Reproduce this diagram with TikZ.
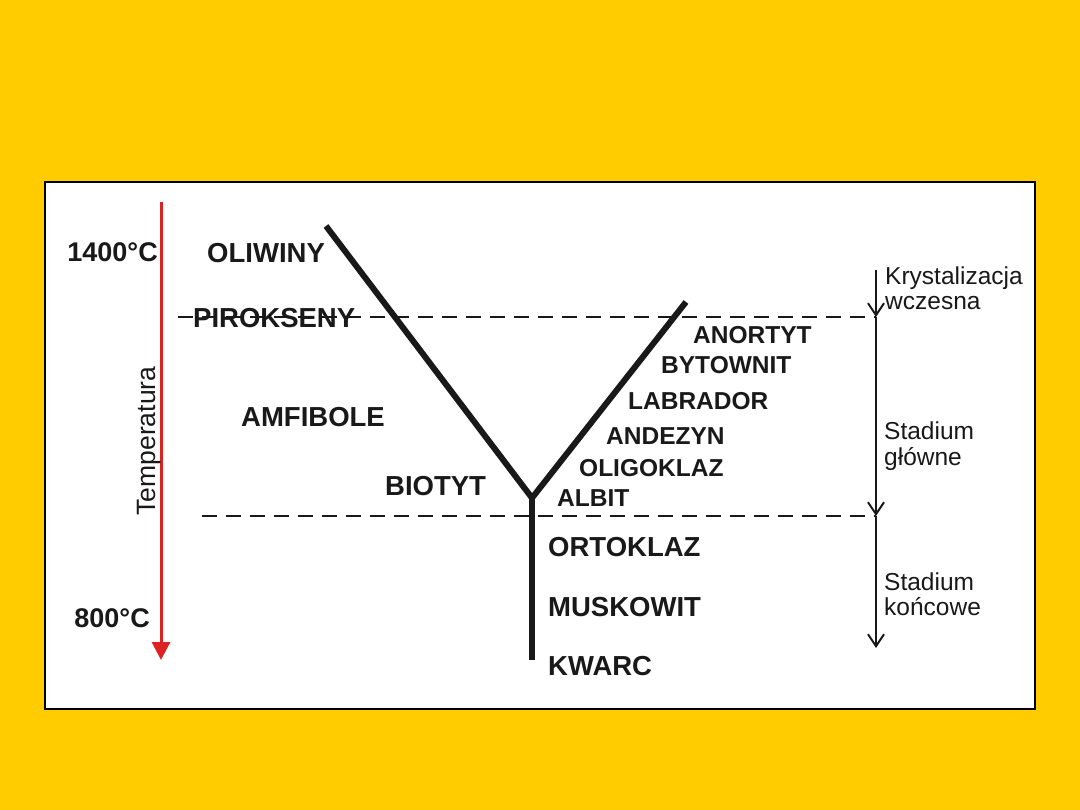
\documentclass[tikz,border=0pt]{standalone}
\usepackage{fontspec}
\setmainfont{Liberation Sans}
\usepackage{tikz}
\usetikzlibrary{arrows.meta,positioning,calc}
\definecolor{slideyellow}{HTML}{FFCC00}
\definecolor{tempred}{HTML}{DD2222}

\begin{document}
\begin{tikzpicture}[x=1pt,y=-1pt,
mineral/.style={inner sep=0pt,anchor=base west,font=\fontsize{27.5}{30}\selectfont\bfseries,text=black!90},
plag/.style={inner sep=0pt,anchor=base west,font=\fontsize{24.5}{27}\selectfont\bfseries,text=black!90},
temp/.style={inner sep=0pt,anchor=base east,font=\fontsize{27}{30}\selectfont\bfseries,text=black!90},
stage/.style={inner sep=0pt,anchor=base west,font=\fontsize{24.5}{26}\selectfont,text=black!90},
branch/.style={line width=6pt,black!90},
level/.style={line width=1.4pt,dash pattern=on 15pt off 9pt,black!90},
stagearrow/.style={line width=2pt,black!90,-{Straight Barb[length=12pt,width=16pt]}}]
% tlo i ramka
\fill[slideyellow] (0,0) rectangle (1080,810);
\draw[line width=2pt,fill=white] (45,182) rectangle (1035,709);
% os temperatury
\coordinate (thot) at (161,202);
\coordinate (tcold) at (161,660);
\draw[tempred,line width=3pt,-{Triangle[length=18pt,width=18pt]}] (thot)--(tcold);
\node[temp] (t1400) at (158,262) {1400°C};
\node[temp] (t800) at (150,627) {800°C};
\node[inner sep=0pt,anchor=base,rotate=90,font=\fontsize{26.5}{29}\selectfont,text=black!90] (tlabel) at (155,441) {Temperatura};
% szereg Bowena
\coordinate (mafic) at (326,226);
\coordinate (felsic) at (686,302);
\coordinate (fork) at (532,498);
\coordinate (quartz) at (532,660);
\draw[branch,line join=miter] (mafic)--(fork)--(felsic);
\draw[branch] (fork)--(quartz);
% stadia
\coordinate (s0) at (876,270);\coordinate (s1) at (876,317);
\coordinate (s2) at (876,516);\coordinate (s3) at (876,648);
\coordinate (d1) at (178,317);\coordinate (d2) at (202,516);
\draw[level] (d1)--(s1);\draw[level] (d2)--(s2);
\draw[stagearrow] (s0)--(s1);\draw[stagearrow] (s1)--(s2);\draw[stagearrow] (s2)--(s3);
\node[stage] (early1) at (885,285) {Krystalizacja};
\node[stage] (early2) at (885,310) {wczesna};
\node[stage] (main1) at (884,440) {Stadium};
\node[stage] (main2) at (884,465) {główne};
\node[stage] (late1) at (884,590) {Stadium};
\node[stage] (late2) at (884,615) {końcowe};
% mineraly
\node[mineral] (oliv) at (207,263) {OLIWINY};
\node[mineral] (pyrox) at (193,328) {PIROKSENY};
\node[mineral] (amph) at (241,427) {AMFIBOLE};
\node[mineral] (biot) at (385,496) {BIOTYT};
\node[plag] (an) at (693,344) {ANORTYT};
\node[plag] (byt) at (661,374) {BYTOWNIT};
\node[plag] (lab) at (628,410) {LABRADOR};
\node[plag] (and) at (606,445) {ANDEZYN};
\node[plag] (olig) at (579,476) {OLIGOKLAZ};
\node[plag] (alb) at (557,506) {ALBIT};
\node[mineral] (ort) at (548,556) {ORTOKLAZ};
\node[mineral] (musk) at (548,616) {MUSKOWIT};
\node[mineral] (qtz) at (548,675) {KWARC};
\end{tikzpicture}
\end{document}
